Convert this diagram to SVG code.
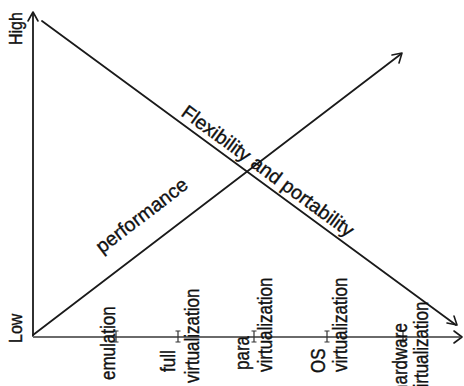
<svg xmlns="http://www.w3.org/2000/svg" width="464" height="386" viewBox="0 0 464 386">
<defs>
<style>
.ln{stroke:#1a1a1a;stroke-width:1.8;fill:none;stroke-linecap:round}
.ax{stroke:#6a6a6a;stroke-width:2.2;fill:none}
.ah{stroke:#1a1a1a;stroke-width:1.6;fill:none;stroke-linecap:round;stroke-linejoin:round}
.tk{stroke:#333;stroke-width:1.2;fill:none}
.t{font-family:"Liberation Sans",Arial,sans-serif;fill:#111;stroke:#111;stroke-width:0.35}
.big{font-size:19.6px}
.lab{font-size:17px}
.axl{font-size:16px}
</style>
</defs>
<g id="connectors">
<line class="ln" x1="33" y1="336" x2="33" y2="13"/>
<polyline class="ah" points="28,21 33,12 38,21"/>
<line class="ax" x1="33" y1="337" x2="460" y2="337"/>
<polyline class="ah" points="454,331 462,337 454,343"/>
<line class="ln" x1="42" y1="21" x2="456" y2="325"/>
<polyline class="ah" points="447,323 457,325 454,316"/>
<line class="ln" x1="33" y1="335" x2="401" y2="54"/>
<polyline class="ah" points="392,55 402,53 399,63"/>
<g id="ticks">
<path class="tk" d="M116 331v11M113.5 331h5M113.5 342h5"/>
<path class="tk" d="M178 331v11M175.5 331h5M175.5 342h5"/>
<path class="tk" d="M254 331v11M251.5 331h5M251.5 342h5"/>
<path class="tk" d="M327 331v11M324.5 331h5M324.5 342h5"/>
<path class="tk" d="M403 331v11M400.5 331h5M400.5 342h5"/>
</g>
</g>
<g id="axis-labels">
<text class="t axl" transform="translate(22,45) rotate(-90) scale(1,1.15)">High</text>
<text class="t axl" transform="translate(22,343) rotate(-90) scale(1,1.15)">Low</text>
</g>
<g id="flexibility">
<text class="t big" transform="translate(180,115) rotate(36.2)">Flexibility and portability</text>
</g>
<g id="performance">
<text class="t big" transform="translate(102,254) rotate(-37.4)">performance</text>
</g>
<g id="emulation">
<text class="t lab" transform="translate(115,380) rotate(-90) scale(1,1.2)">emulation</text>
</g>
<g id="full-virtualization">
<text class="t lab" transform="translate(175,372) rotate(-90) scale(1,1.2)">full</text>
<text class="t lab" transform="translate(199,383) rotate(-90) scale(1,1.2)">virtualization</text>
</g>
<g id="para-virtualization">
<text class="t lab" transform="translate(249,370) rotate(-90) scale(1,1.2)">para</text>
<text class="t lab" transform="translate(272,372) rotate(-90) scale(1,1.2)">virtualization</text>
</g>
<g id="os-virtualization">
<text class="t lab" transform="translate(325,373) rotate(-90) scale(1,1.2)">OS</text>
<text class="t lab" transform="translate(347,372) rotate(-90) scale(1,1.2)">virtualization</text>
</g>
<g id="hardware-virtualization">
<text class="t lab" transform="translate(407,394) rotate(-90) scale(1,1.2)">hardware</text>
<text class="t lab" transform="translate(428,396) rotate(-90) scale(1,1.2)">virtualization</text>
</g>
</svg>
